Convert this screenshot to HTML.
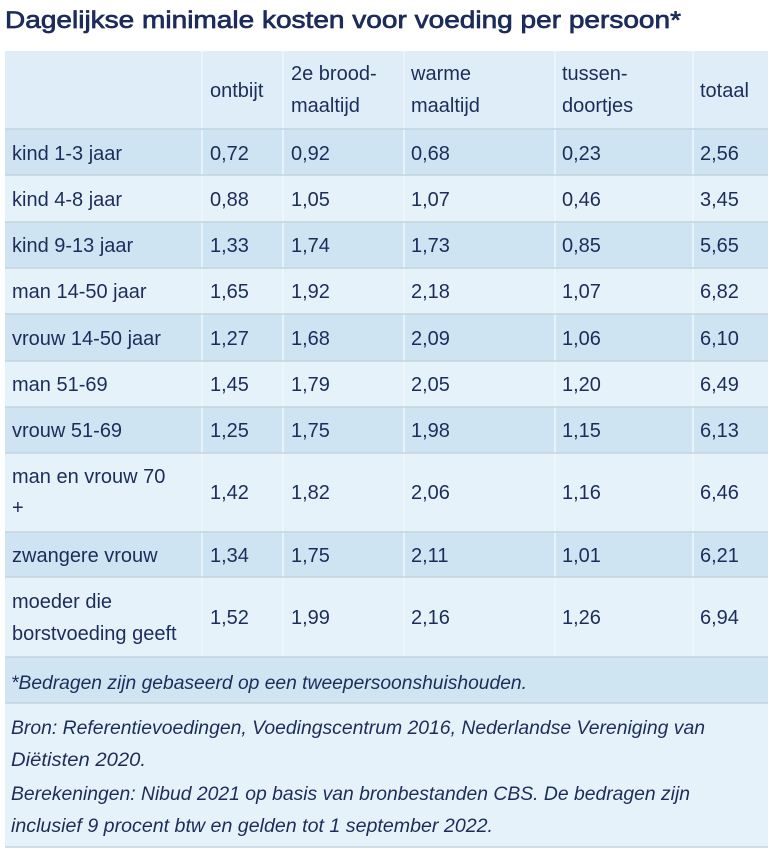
<!DOCTYPE html>
<html>
<head>
<meta charset="utf-8">
<style>
html,body{margin:0;padding:0;background:#ffffff;}
svg{display:block;}
.t{font-family:"Liberation Sans",sans-serif;fill:#1d2d5a;}
.b{font-size:20px;}
.i{font-size:19.5px;font-style:italic;}
</style>
</head>
<body>
<svg width="772" height="855" viewBox="0 0 772 855" xmlns="http://www.w3.org/2000/svg">
  <rect width="772" height="855" fill="#ffffff"/>
  <!-- Title -->
  <text class="t" x="5" y="28" font-size="24" stroke="#1b2a5b" stroke-width="0.7" textLength="676" lengthAdjust="spacingAndGlyphs" fill="#1b2a5b">Dagelijkse minimale kosten voor voeding per persoon*</text>

  <!-- header bg -->
  <rect x="5" y="51" width="763" height="78" fill="#deedf7"/>
  <!-- rows -->
  <rect x="5" y="129" width="763" height="46" fill="#cee4f2"/>
  <rect x="5" y="175" width="763" height="47" fill="#e6f2fa"/>
  <rect x="5" y="222" width="763" height="46" fill="#cee4f2"/>
  <rect x="5" y="268" width="763" height="46" fill="#e6f2fa"/>
  <rect x="5" y="314" width="763" height="47" fill="#cee4f2"/>
  <rect x="5" y="361" width="763" height="46" fill="#e6f2fa"/>
  <rect x="5" y="407" width="763" height="46" fill="#cee4f2"/>
  <rect x="5" y="453" width="763" height="79" fill="#e6f2fa"/>
  <rect x="5" y="532" width="763" height="45" fill="#cee4f2"/>
  <rect x="5" y="577" width="763" height="80" fill="#e6f2fa"/>
  <!-- footnote row -->
  <rect x="5" y="657" width="763" height="46" fill="#cfe5f2"/>
  <!-- source box -->
  <rect x="5" y="703" width="763" height="144" fill="#e6f2fa"/>

  <!-- vertical separators -->
  <g stroke="#f0f7fc" stroke-width="1.5">
    <line x1="202" y1="51" x2="202" y2="657"/>
    <line x1="283" y1="51" x2="283" y2="657"/>
    <line x1="404" y1="51" x2="404" y2="657"/>
    <line x1="555" y1="51" x2="555" y2="657"/>
    <line x1="693" y1="51" x2="693" y2="657"/>
  </g>
  <!-- horizontal lines -->
  <g stroke="#c3d3dd" stroke-width="1.5">
    <line x1="5" y1="129" x2="768" y2="129"/>
    <line x1="5" y1="175" x2="768" y2="175"/>
    <line x1="5" y1="222" x2="768" y2="222"/>
    <line x1="5" y1="268" x2="768" y2="268"/>
    <line x1="5" y1="314" x2="768" y2="314"/>
    <line x1="5" y1="361" x2="768" y2="361"/>
    <line x1="5" y1="407" x2="768" y2="407"/>
    <line x1="5" y1="453" x2="768" y2="453"/>
    <line x1="5" y1="532" x2="768" y2="532"/>
    <line x1="5" y1="577" x2="768" y2="577"/>
    <line x1="5" y1="657" x2="768" y2="657"/>
    <line x1="5" y1="703" x2="768" y2="703"/>
    <line x1="5" y1="847" x2="768" y2="847"/>
  </g>

  <!-- header text -->
  <g class="t b">
    <text x="210" y="97">ontbijt</text>
    <text x="291" y="80">2e brood-</text>
    <text x="291" y="112">maaltijd</text>
    <text x="411" y="80">warme</text>
    <text x="411" y="112">maaltijd</text>
    <text x="562" y="80">tussen-</text>
    <text x="562" y="112">doortjes</text>
    <text x="700" y="97">totaal</text>
  </g>

  <!-- data rows -->
  <g class="t b">
    <text x="12" y="160">kind 1-3 jaar</text>
    <text x="210" y="160">0,72</text><text x="291" y="160">0,92</text><text x="411" y="160">0,68</text><text x="562" y="160">0,23</text><text x="700" y="160">2,56</text>

    <text x="12" y="206">kind 4-8 jaar</text>
    <text x="210" y="206">0,88</text><text x="291" y="206">1,05</text><text x="411" y="206">1,07</text><text x="562" y="206">0,46</text><text x="700" y="206">3,45</text>

    <text x="12" y="252">kind 9-13 jaar</text>
    <text x="210" y="252">1,33</text><text x="291" y="252">1,74</text><text x="411" y="252">1,73</text><text x="562" y="252">0,85</text><text x="700" y="252">5,65</text>

    <text x="12" y="298">man 14-50 jaar</text>
    <text x="210" y="298">1,65</text><text x="291" y="298">1,92</text><text x="411" y="298">2,18</text><text x="562" y="298">1,07</text><text x="700" y="298">6,82</text>

    <text x="12" y="345">vrouw 14-50 jaar</text>
    <text x="210" y="345">1,27</text><text x="291" y="345">1,68</text><text x="411" y="345">2,09</text><text x="562" y="345">1,06</text><text x="700" y="345">6,10</text>

    <text x="12" y="391">man 51-69</text>
    <text x="210" y="391">1,45</text><text x="291" y="391">1,79</text><text x="411" y="391">2,05</text><text x="562" y="391">1,20</text><text x="700" y="391">6,49</text>

    <text x="12" y="437">vrouw 51-69</text>
    <text x="210" y="437">1,25</text><text x="291" y="437">1,75</text><text x="411" y="437">1,98</text><text x="562" y="437">1,15</text><text x="700" y="437">6,13</text>

    <text x="12" y="483">man en vrouw 70</text>
    <text x="12" y="514">+</text>
    <text x="210" y="499">1,42</text><text x="291" y="499">1,82</text><text x="411" y="499">2,06</text><text x="562" y="499">1,16</text><text x="700" y="499">6,46</text>

    <text x="12" y="562">zwangere vrouw</text>
    <text x="210" y="562">1,34</text><text x="291" y="562">1,75</text><text x="411" y="562">2,11</text><text x="562" y="562">1,01</text><text x="700" y="562">6,21</text>

    <text x="12" y="608">moeder die</text>
    <text x="12" y="640">borstvoeding geeft</text>
    <text x="210" y="624">1,52</text><text x="291" y="624">1,99</text><text x="411" y="624">2,16</text><text x="562" y="624">1,26</text><text x="700" y="624">6,94</text>
  </g>

  <!-- footnote & sources -->
  <g class="t i">
    <text x="11" y="689" textLength="516" lengthAdjust="spacingAndGlyphs">*Bedragen zijn gebaseerd op een tweepersoonshuishouden.</text>
    <text x="11" y="734" textLength="694" lengthAdjust="spacingAndGlyphs">Bron: Referentievoedingen, Voedingscentrum 2016, Nederlandse Vereniging van</text>
    <text x="11" y="766" textLength="135" lengthAdjust="spacingAndGlyphs">Diëtisten 2020.</text>
    <text x="11" y="800" textLength="679" lengthAdjust="spacingAndGlyphs">Berekeningen: Nibud 2021 op basis van bronbestanden CBS. De bedragen zijn</text>
    <text x="11" y="832" textLength="482" lengthAdjust="spacingAndGlyphs">inclusief 9 procent btw en gelden tot 1 september 2022.</text>
  </g>
</svg>
</body>
</html>
